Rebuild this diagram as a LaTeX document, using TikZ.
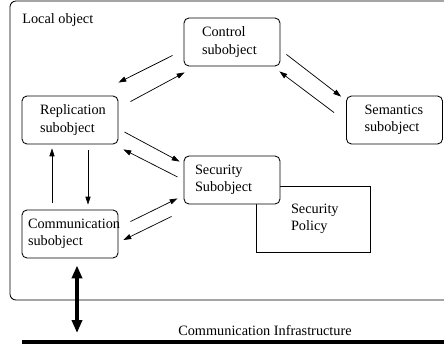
\documentclass[tikz,border=0pt]{standalone}
\usepackage{fontspec}
\setmainfont{Liberation Serif}
\usetikzlibrary{arrows.meta, calc}
\hfuzz=30pt

\begin{document}
\begin{tikzpicture}[
  x=0.7pt, y=-0.7pt,
  sub/.style 2 args={rectangle, rounded corners=3.5pt, draw, fill=white, line width=0.6pt,
               minimum height=33.6pt, inner ysep=2pt, inner xsep=#1, text width=#2, align=left},
  pol/.style={rectangle, draw, line width=0.6pt, minimum height=46.2pt,
              inner ysep=2pt, inner xsep=24.5pt, text width=30.8pt, align=left},
  arr/.style={-{Triangle[length=5.5pt, width=3.6pt]}, line width=0.5pt},
  bigarr/.style={{Triangle[length=9pt, width=7pt]}-{Triangle[length=9pt, width=7pt]}, line width=2.4pt}
]
\useasboundingbox (0,0) rectangle (444,345);
\clip (0,0) rectangle (444,345);
% local object frame
\draw[line width=0.6pt, rounded corners=4.2pt] (10,1) rectangle (452,300);
\node[anchor=west, inner sep=0pt] (title) at (22,20) {Local object};

% subobjects
\node[pol] (pol) at (313,219) {Security\\Policy};
\node[sub={12.6pt}{42pt}]  (ctl) at (232,42)  {Control\\subobject};
\node[sub={12.6pt}{42pt}]  (rep) at (70,120)  {Replication\\subobject};
\node[sub={12.6pt}{42pt}]  (sem) at (394.5,120) {Semantics\\subobject};
\node[sub={7.7pt}{51.8pt}] (sec) at (232,180) {Security\\Subobject};
\node[sub={4.2pt}{58.8pt}] (com) at (70,234)  {Communication\\subobject};

% arrows
\draw[arr] ([shift={(-11,-11)}]ctl.south west) -- ([shift={(0,-13)}]rep.north east);
\draw[arr] ([shift={(12,6)}]rep.north east)    -- ([shift={(1,6)}]ctl.south west);
\draw[arr] ([shift={(6,-12)}]ctl.south east)   -- ([shift={(-5,1)}]sem.north west);
\draw[arr] ([shift={(-12,17)}]sem.north west)  -- ([shift={(-1,5)}]ctl.south east);
\draw[arr] ([shift={(6,12)}]rep.east)          -- ([shift={(-4,6)}]sec.north west);
\draw[arr] ([shift={(-6,-3)}]sec.west)         -- ([shift={(5,5)}]rep.south east);
\draw[arr] ([shift={(18,6)}]rep.south)         -- ([shift={(18,-5)}]com.north);
\draw[arr] ([shift={(-18,-7)}]com.north)       -- ([shift={(-18,4)}]rep.south);
\draw[arr] ([shift={(12,12)}]com.north east)   -- ([shift={(-6,-6)}]sec.south west);
\draw[arr] ([shift={(-12,12)}]sec.south west)  -- ([shift={(5,6)}]com.east);

% communication infrastructure
\coordinate (busw) at (22,342);
\coordinate (buse) at (450,342);
\draw[line width=2.4pt] (busw) -- (buse);
\node (infra) at (265,331) {Communication Infrastructure};
\draw[bigarr] ([shift={(7,7)}]com.south) -- ($(com.south |- busw)+(7,-9)$);
\end{tikzpicture}
\end{document}
